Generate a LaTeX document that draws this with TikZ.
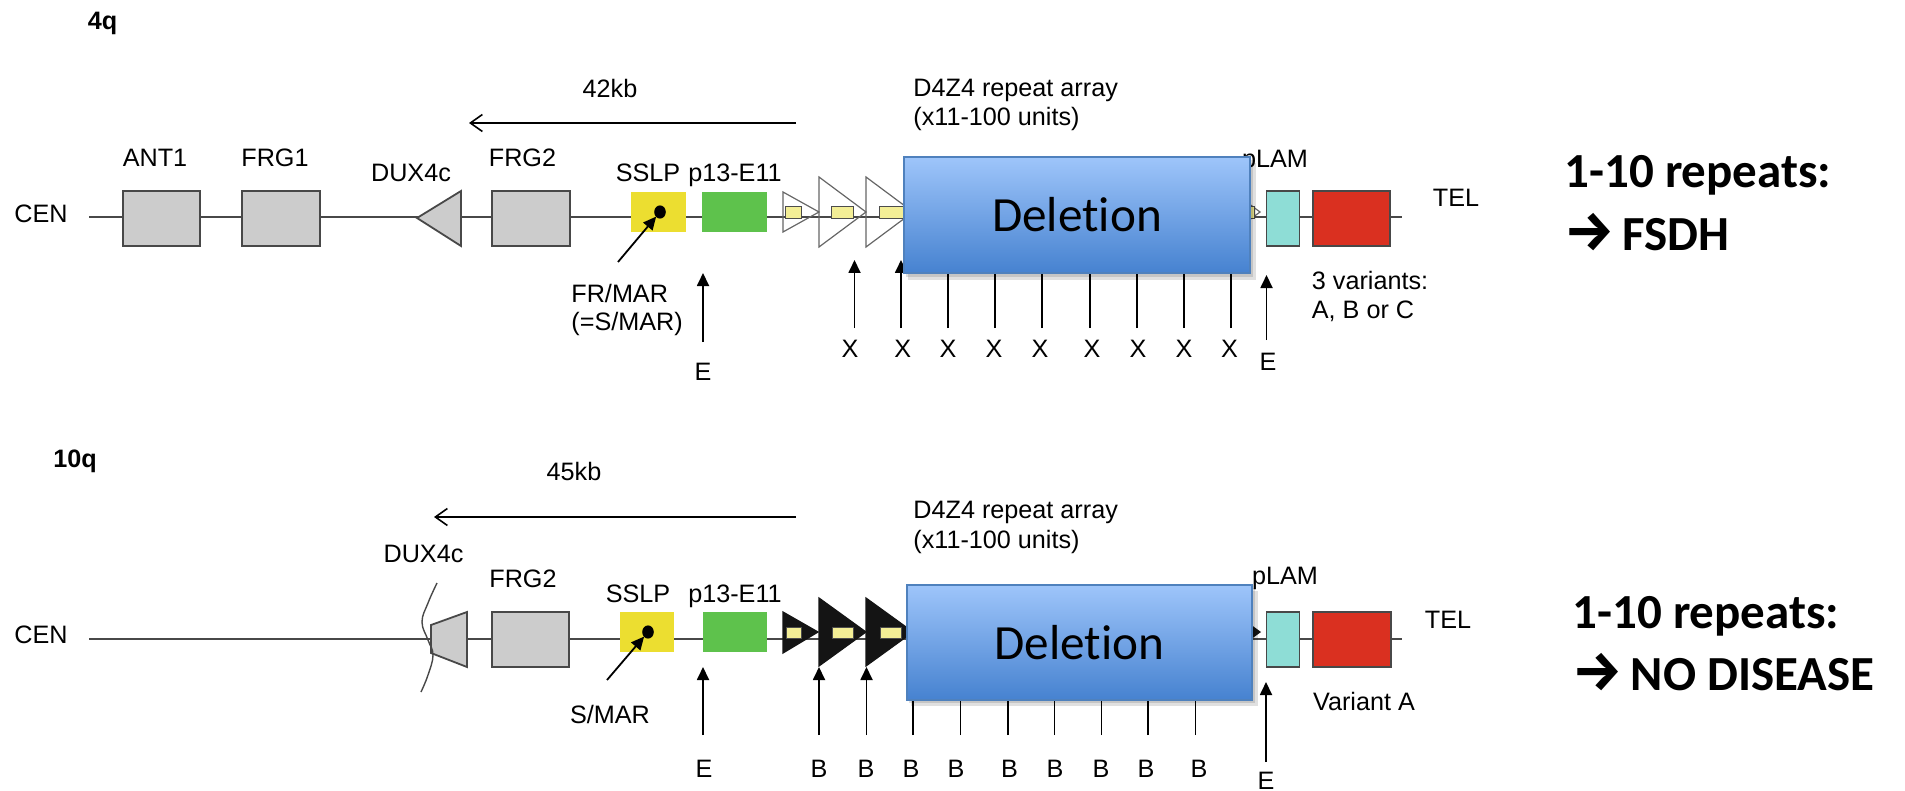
\documentclass[tikz,border=0pt]{standalone}
\usepackage{graphicx}
\usepackage{fontspec}
\setmainfont{Liberation Sans}
\newfontfamily\calfont[Ligatures=NoCommon]{Carlito}
\newfontfamily\arrfont{Fira Sans}
\usetikzlibrary{arrows.meta}
\definecolor{genegray}{RGB}{204,204,204}
\definecolor{edgegray}{RGB}{72,72,72}
\definecolor{sslpyellow}{RGB}{236,222,48}
\definecolor{p13green}{RGB}{94,194,76}
\definecolor{plamcyan}{RGB}{142,221,214}
\definecolor{telred}{RGB}{218,48,32}
\definecolor{unityellow}{RGB}{243,238,150}
\definecolor{delTop}{RGB}{158,197,250}
\definecolor{delBot}{RGB}{70,130,208}
\definecolor{delEdge}{RGB}{79,129,189}
\newcommand\labfont{\fontsize{12.6}{14}\selectfont}
\newcommand\notefont{\calfont\bfseries\fontsize{24.5}{29}\selectfont}
\newcommand\notearrow{{\arrfont\bfseries\fontsize{28}{28}\selectfont →}}
\begin{document}
\begin{tikzpicture}[x=0.5pt,y=-0.5pt,
  lbl/.style={font=\labfont, inner sep=0pt, anchor=base},
  tag/.style={font=\labfont\bfseries, inner sep=0pt, anchor=base},
  gene/.style={draw=edgegray, line width=0.9pt, fill=#1, inner sep=0pt},
  gene/.default=genegray,
  flat/.style={fill=#1, draw=none, inner sep=0pt},
  chrom/.style={draw=edgegray, line width=0.9pt},
  uparrow/.style={-{Triangle[length=6.5pt,width=6pt]}, line width=0.9pt, draw=black},
  tickline/.style={line width=0.9pt, draw=black},
  kbarrow/.style={-{Straight Barb[length=6pt,width=8.5pt]}, line width=0.8pt, draw=black},
  unitw/.style={draw=gray!80!black, line width=0.6pt},
  unitb/.style={fill=black!92, draw=black!92, line width=0.6pt},
  unitbox/.style={fill=unityellow, draw=gray!60!black, line width=0.4pt},
  delbox/.style={draw=delEdge, line width=1pt, top color=delTop, bottom color=delBot, inner sep=0pt, font=\calfont\fontsize{24.6}{28}\selectfont},
  note/.style={font=\notefont, inner sep=0pt, anchor=base west},
  shadowfill/.style={fill=black, opacity=0.12, draw=none}
]
\useasboundingbox (0,0) rectangle (1905,791);

% ================= 4q =================
\node[tag] (qfour) at (102.5,30) {4q};
\coordinate (lineAa) at (89,217);
\coordinate (lineAb) at (1402,217);
\draw[chrom] (lineAa) -- (lineAb);
\node[lbl] (cenA) at (41,223) {CEN};

\node[gene, minimum width=38.5pt, minimum height=27.5pt] (antA) at (161.5,218.5) {};
\node[gene, minimum width=39pt, minimum height=27.5pt] (frgoneA) at (281,218.5) {};
\draw[chrom, fill=genegray] (417,218) -- (461,191) -- (461,246) -- cycle;
\node[gene, minimum width=39pt, minimum height=27.5pt] (frgtwoA) at (531,218.5) {};
\node[flat=sslpyellow, minimum width=27.5pt, minimum height=20pt] (sslpA) at (658.5,212) {};
\coordinate (dotA) at (660,212);
\fill[black] (dotA) ellipse (2.9pt and 3.3pt);
\node[flat=p13green, minimum width=32.5pt, minimum height=20pt] (pthA) at (734.5,212) {};

% repeat units (open)
\draw[unitw] (783,192) -- (819,212) -- (783,232) -- cycle;
\draw[unitbox] (785,206) rectangle (801,218);
\draw[unitw] (819,177) -- (866,212) -- (819,247) -- cycle;
\draw[unitbox] (831,206) rectangle (853,218);
\draw[unitw] (866,177) -- (913,212) -- (866,247) -- cycle;
\draw[unitbox] (879,206) rectangle (903,218);
\draw[unitw] (1213,177) -- (1260,212) -- (1213,247) -- cycle;
\draw[unitbox] (1228,206) rectangle (1254,218);

\node[lbl] (plamA) at (1275,168) {pLAM};
\node[gene=plamcyan, minimum width=16.5pt, minimum height=27.5pt] (plamboxA) at (1283,218.5) {};
\node[gene=telred, minimum width=38.5pt, minimum height=27.5pt] (telboxA) at (1351.5,218.5) {};

% X sites
\foreach \i/\xx in {1/854.5,2/901}{
  \coordinate (xtA\i) at (\xx,328);
  \coordinate (xhA\i) at (\xx,260);
  \draw[uparrow] (xtA\i) -- (xhA\i);
}
\foreach \i/\xx in {3/948,4/995,5/1042,6/1090,7/1137,8/1184,9/1231}{
  \coordinate (xtA\i) at (\xx,328);
  \coordinate (xhA\i) at (\xx,265);
  \draw[tickline] (xtA\i) -- (xhA\i);
}
\foreach \i/\xx in {1/850,2/902.7,3/948,4/994,5/1040,6/1092,7/1138,8/1184,9/1229.5}{
  \node[lbl] (xlA\i) at (\xx,357) {X};
}

% deletion box
\fill[shadowfill] (908,163) rectangle (1256,280);
\fill[shadowfill] (906,160) rectangle (1253,277);
\node[delbox, minimum width=173pt, minimum height=58pt] (delA) at (1077,215) {Deletion};

% labels
\node[lbl] (antlabA) at (155,167) {ANT1};
\node[lbl] (frgonelabA) at (275,167) {FRG1};
\node[lbl] (duxlabA) at (411,182) {DUX4c};
\node[lbl] (frgtwolabA) at (522.5,167) {FRG2};
\node[lbl] (sslplabA) at (648,182) {SSLP};
\node[lbl] (pthlabA) at (735,182) {p13-E11};
\node[lbl] (tellabA) at (1456,207) {TEL};
\node[lbl] (kbA) at (610,98) {42kb};
\coordinate (kbAr) at (796,123);
\coordinate (kbAl) at (469,123);
\draw[kbarrow] (kbAr) -- (kbAl);
\node[lbl, anchor=base west] (dzA1) at (913,97) {D4Z4 repeat array};
\node[lbl, anchor=base west] (dzA2) at (913,126) {(x11-100 units)};
\node[lbl, anchor=base west] (frmarA1) at (571,302) {FR/MAR};
\node[lbl, anchor=base west] (frmarA2) at (571,330) {(=S/MAR)};
\coordinate (frtailA) at (618,262);
\draw[uparrow, shorten >=3pt] (frtailA) -- (dotA);
\node[lbl] (eA1) at (703,380) {E};
\coordinate (etA1) at (703,342);
\coordinate (ehA1) at (703,273);
\draw[uparrow] (etA1) -- (ehA1);
\node[lbl] (eA2) at (1268,370) {E};
\coordinate (etA2) at (1266.5,340);
\coordinate (ehA2) at (1266.5,275);
\draw[uparrow] (etA2) -- (ehA2);
\node[lbl, anchor=base west] (varA1) at (1311.5,290) {3 variants:};
\node[lbl, anchor=base west] (varA2) at (1311.5,318) {A, B or C};

\node[note] (noteA1) at (1564,188) {1-10 repeats:};
\node[note] (noteA2) at (1564,250) {\notearrow\hspace{4pt}FSDH};

% ================= 10q =================
\node[tag] (qten) at (75,467) {10q};
\coordinate (lineBa) at (89,639);
\coordinate (lineBb) at (1402,639);
\draw[chrom] (lineBa) -- (lineBb);
\node[lbl] (cenB) at (41,643) {CEN};

\draw[chrom, fill=genegray] (431,625) -- (467,612) -- (467,667) -- (431,653) -- cycle;
\draw[line width=0.7pt, edgegray] plot[smooth, tension=0.7] coordinates {(437,583) (428,603) (422,622) (428,640) (433,655) (428,675) (421,692)};
\node[gene, minimum width=38.5pt, minimum height=27.5pt] (frgtwoB) at (530.5,639.5) {};
\node[flat=sslpyellow, minimum width=26.75pt, minimum height=20pt] (sslpB) at (646.75,632) {};
\coordinate (dotB) at (648,632);
\fill[black] (dotB) ellipse (2.9pt and 3.3pt);
\node[flat=p13green, minimum width=32pt, minimum height=20pt] (pthB) at (735,632) {};

% repeat units (filled)
\draw[unitb] (783,612) -- (818,632) -- (783,653) -- cycle;
\draw[unitbox] (786,627) rectangle (801,638);
\draw[unitb] (819,598) -- (866,632) -- (819,666) -- cycle;
\draw[unitbox] (832,627) rectangle (853.5,638);
\draw[unitb] (866,598) -- (913,632) -- (866,666) -- cycle;
\draw[unitbox] (880,627) rectangle (901,638);
\draw[unitb] (1213,598) -- (1260,632) -- (1213,666) -- cycle;

\node[gene=plamcyan, minimum width=16.5pt, minimum height=27.5pt] (plamboxB) at (1283,639.5) {};
\node[gene=telred, minimum width=39pt, minimum height=27.5pt] (telboxB) at (1352,639.5) {};

% B sites
\foreach \i/\xx in {1/819,2/866.5}{
  \coordinate (btB\i) at (\xx,735);
  \coordinate (bhB\i) at (\xx,667);
  \draw[uparrow] (btB\i) -- (bhB\i);
}
\foreach \i/\xx in {3/913,4/960.5,5/1008,6/1054.5,7/1101.5,8/1148,9/1195.5}{
  \coordinate (btB\i) at (\xx,735);
  \coordinate (bhB\i) at (\xx,692);
  \draw[tickline] (btB\i) -- (bhB\i);
}
\foreach \i/\xx in {1/819,2/866,3/911,4/956,5/1009.6,6/1055,7/1101,8/1146,9/1199}{
  \node[lbl] (blB\i) at (\xx,777) {B};
}

% deletion box
\fill[shadowfill] (911,591) rectangle (1258,706);
\fill[shadowfill] (909,588) rectangle (1255,703);
\node[delbox, minimum width=172.5pt, minimum height=57.5pt] (delB) at (1079.5,642.5) {Deletion};

% labels
\node[lbl] (duxlabB) at (423.5,562) {DUX4c};
\node[lbl] (frgtwolabB) at (523,587) {FRG2};
\node[lbl] (sslplabB) at (638,602) {SSLP};
\node[lbl] (pthlabB) at (735,602) {p13-E11};
\node[lbl] (plamB) at (1285,584) {pLAM};
\node[lbl] (tellabB) at (1448,628) {TEL};
\node[lbl] (kbB) at (574,480) {45kb};
\coordinate (kbBr) at (796,517);
\coordinate (kbBl) at (434,517);
\draw[kbarrow] (kbBr) -- (kbBl);
\node[lbl, anchor=base west] (dzB1) at (913,518) {D4Z4 repeat array};
\node[lbl, anchor=base west] (dzB2) at (913,548) {(x11-100 units)};
\node[lbl] (smarB) at (610,723) {S/MAR};
\coordinate (smtailB) at (607,680);
\draw[uparrow, shorten >=3pt] (smtailB) -- (dotB);
\node[lbl] (eB1) at (704,777) {E};
\coordinate (etB1) at (703,735);
\coordinate (ehB1) at (703,667);
\draw[uparrow] (etB1) -- (ehB1);
\node[lbl] (eB2) at (1266,789) {E};
\coordinate (etB2) at (1266,762);
\coordinate (ehB2) at (1266,682);
\draw[uparrow] (etB2) -- (ehB2);
\node[lbl] (varB) at (1364,710) {Variant A};

\node[note] (noteB1) at (1572,628) {1-10 repeats:};
\node[note] (noteB2) at (1572,690) {\notearrow\hspace{4pt}NO DISEASE};
\end{tikzpicture}
\end{document}
